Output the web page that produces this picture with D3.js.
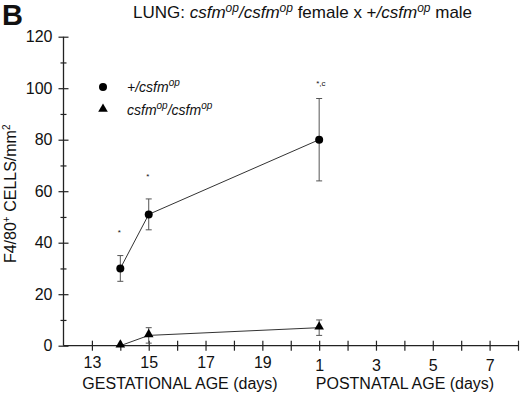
<!DOCTYPE html>
<html>
<head>
<meta charset="utf-8">
<script src="https://cdn.jsdelivr.net/npm/d3@7"></script>
<style>
  body { margin: 0; background: #fff; }
  text { font-family: "Liberation Sans", Arial, sans-serif; fill: #111; }
</style>
</head>
<body>
<div id="chart"></div>
<script>
// gestational days 13..20 map to 13..20, postnatal day d maps to 20 + d
const hetDays = [14, 15, 21];
const hetMeans = [30, 51, 80];
const hetErrs = [5, 6, 16];
const hetMarks = [44, 66, 102];
const hetMarkText = ["*", "*", "*,c"];

const homDays = [14, 15, 21];
const homMeans = [0, 4, 7];
const homErrs = [0, 3, 3];

const xTickVals = d3.range(13, 29);
const yTickVals = d3.range(0, 121, 10);

function init() {
    const W = 520, H = 393;

    const svg = d3.select("#chart")
        .append("svg")
        .attr("width", W)
        .attr("height", H);

    const x = d3.scaleLinear().domain([12, 28]).range([63.5, 518]);
    const y = d3.scaleLinear().domain([0, 120]).range([345.7, 36.7]);

    // panel letter + title
    svg.append("text")
        .attr("x", 2).attr("y", 25)
        .style("font-size", "29px").style("font-weight", "bold")
        .text("B");

    const title = svg.append("text")
        .attr("x", 133).attr("y", 18)
        .style("font-size", "17px");
    title.append("tspan").text("LUNG: ");
    title.append("tspan").style("font-style", "italic").text("csfm");
    title.append("tspan").style("font-style", "italic").style("font-size", "12px").attr("dy", -6).text("op");
    title.append("tspan").style("font-style", "italic").attr("dy", 6).text("/csfm");
    title.append("tspan").style("font-style", "italic").style("font-size", "12px").attr("dy", -6).text("op");
    title.append("tspan").attr("dy", 6).text(" female x +");
    title.append("tspan").style("font-style", "italic").text("/csfm");
    title.append("tspan").style("font-style", "italic").style("font-size", "12px").attr("dy", -6).text("op");
    title.append("tspan").attr("dy", 6).text(" male");

    // x axis
    const xAxis = svg.append("g")
        .attr("transform", `translate(0,${y(0)})`)
        .call(d3.axisBottom(x)
            .tickValues(xTickVals)
            .tickSize(5)
            .tickPadding(6)
            .tickFormat(d => {
                if (d <= 20) return d % 2 ? d : "";
                return (d - 20) % 2 ? d - 20 : "";
            }));
    xAxis.select(".domain").attr("d", `M${x(12)},0H${x(28)}`).attr("stroke", "#222").attr("stroke-width", 1.3);
    xAxis.selectAll(".tick line").attr("y1", -5).attr("stroke", "#222").attr("stroke-width", 1.2);
    xAxis.selectAll(".tick text")
        .style("font-size", "16px")
        .attr("fill", "#111")
        .attr("dy", d => d > 20 ? "0.88em" : "0.7em");

    svg.append("text")
        .attr("x", 180).attr("y", 389)
        .attr("text-anchor", "middle")
        .style("font-size", "16px")
        .text("GESTATIONAL AGE (days)");
    svg.append("text")
        .attr("x", 405).attr("y", 389)
        .attr("text-anchor", "middle")
        .style("font-size", "16px")
        .text("POSTNATAL AGE (days)");

    // y axis
    const yAxis = svg.append("g")
        .attr("transform", `translate(${x(12)},0)`)
        .call(d3.axisLeft(y)
            .tickValues(yTickVals)
            .tickSize(5)
            .tickPadding(6)
            .tickFormat(d => d % 20 ? "" : d));
    yAxis.select(".domain").attr("d", `M0,${y(0)}V${y(120)}`).attr("stroke", "#222").attr("stroke-width", 1.3);
    yAxis.selectAll(".tick line")
        .attr("x1", d => d % 20 ? 3 : 5)
        .attr("x2", d => d % 20 ? -3 : -5)
        .attr("stroke", "#222").attr("stroke-width", 1.2);
    yAxis.selectAll(".tick text").style("font-size", "16px").attr("fill", "#111");

    const ylab = svg.append("text")
        .attr("transform", `translate(16,${y(59)}) rotate(-90)`)
        .attr("text-anchor", "middle")
        .style("font-size", "16px");
    ylab.append("tspan").text("F4/80");
    ylab.append("tspan").style("font-size", "10px").attr("dy", -6).text("+");
    ylab.append("tspan").attr("dy", 6).text(" CELLS/mm");
    ylab.append("tspan").style("font-size", "10px").attr("dy", -6).text("2");

    const line = d3.line().x(d => x(d[0])).y(d => y(d[1]));
    const het = hetDays.map((d, i) => [d, hetMeans[i], hetErrs[i]]);
    const hom = homDays.map((d, i) => [d, homMeans[i], homErrs[i]]);

    [het, hom].forEach(series => {
        svg.append("path")
            .datum(series)
            .attr("d", line)
            .attr("fill", "none")
            .attr("stroke", "#333")
            .attr("stroke-width", 1);

        const eb = svg.append("g").selectAll("g")
            .data(series.filter(d => d[2] > 0))
            .join("g")
            .attr("stroke", "#555")
            .attr("stroke-width", 1);
        eb.append("line")
            .attr("x1", d => x(d[0])).attr("x2", d => x(d[0]))
            .attr("y1", d => y(d[1] - d[2])).attr("y2", d => y(d[1] + d[2]));
        eb.append("line")
            .attr("x1", d => x(d[0]) - 3).attr("x2", d => x(d[0]) + 3)
            .attr("y1", d => y(d[1] + d[2])).attr("y2", d => y(d[1] + d[2]));
        eb.append("line")
            .attr("x1", d => x(d[0]) - 3).attr("x2", d => x(d[0]) + 3)
            .attr("y1", d => y(d[1] - d[2])).attr("y2", d => y(d[1] - d[2]));
    });

    const tri = d3.symbol().type(d3.symbolTriangle).size(40);

    svg.append("g").selectAll("circle")
        .data(het)
        .join("circle")
        .attr("cx", d => x(d[0]))
        .attr("cy", d => y(d[1]))
        .attr("r", 4)
        .attr("fill", "#000");

    svg.append("g").selectAll("path")
        .data(hom)
        .join("path")
        .attr("d", tri)
        .attr("transform", d => `translate(${x(d[0])},${y(d[1]) - 1})`)
        .attr("fill", "#000");

    // significance marks
    svg.append("g").selectAll("text")
        .data(hetDays.map((d, i) => [d, hetMarks[i], hetMarkText[i]]))
        .join("text")
        .attr("x", d => x(d[0]) - 1)
        .attr("y", d => y(d[1]) + 3)
        .attr("text-anchor", d => d[2].length > 1 ? "start" : "middle")
        .attr("dx", d => d[2].length > 1 ? -2 : 0)
        .style("font-size", "8px")
        .text(d => d[2]);

    // legend
    svg.append("circle").attr("cx", 103).attr("cy", 87).attr("r", 4).attr("fill", "#000");
    svg.append("path").attr("d", tri).attr("transform", "translate(103,109)").attr("fill", "#000");

    const l1 = svg.append("text").attr("x", 127).attr("y", 92)
        .style("font-size", "14px").style("font-style", "italic");
    l1.append("tspan").text("+/csfm");
    l1.append("tspan").style("font-size", "10px").attr("dy", -6).text("op");

    const l2 = svg.append("text").attr("x", 127).attr("y", 115)
        .style("font-size", "14px").style("font-style", "italic");
    l2.append("tspan").text("csfm");
    l2.append("tspan").style("font-size", "10px").attr("dy", -6).text("op");
    l2.append("tspan").attr("dy", 6).text("/csfm");
    l2.append("tspan").style("font-size", "10px").attr("dy", -6).text("op");
}

window.onload = init;
</script>
</body>
</html>
